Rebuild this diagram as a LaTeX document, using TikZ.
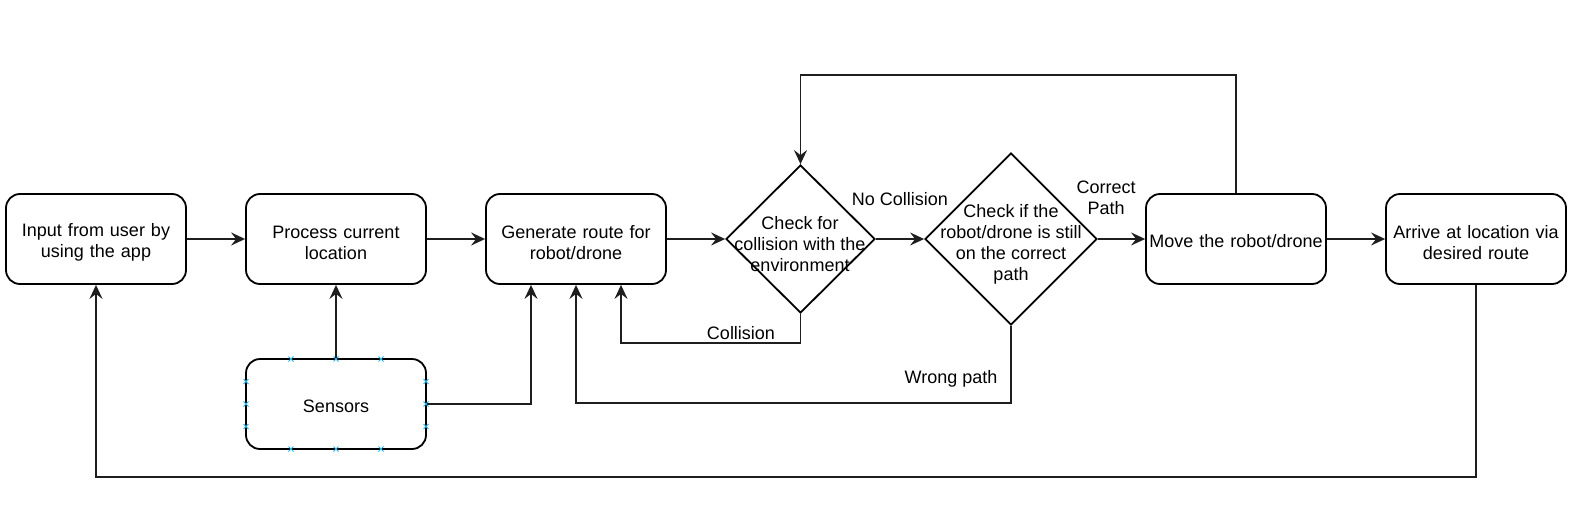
\documentclass[tikz,border=0pt]{standalone}
\usepackage{fontspec}
\setmainfont{Liberation Sans}
\usetikzlibrary{shapes.geometric,arrows.meta}
\definecolor{linegray}{RGB}{30,30,30}
\definecolor{ptblue}{RGB}{41,182,242}
\begin{document}
\begin{tikzpicture}[x=1pt,y=-1pt,
  txt/.style={font=\fontsize{18}{21}\selectfont, align=center, inner sep=0pt},
  box/.style={draw=black, line width=1.8pt, rounded corners=14pt,
    minimum width=180pt, minimum height=90pt, inner sep=0pt},
  btxt/.style={txt, text width=176pt},
  dec/.style={draw=black, line width=1.8pt, diamond, inner sep=0pt, shape aspect=1},
  arr/.style={draw=linegray, line width=1.8pt, line join=miter, -{Stealth[length=14pt,width=13pt,inset=5pt]}},
  lbl/.style={txt},
  ptx/.style={draw=ptblue, line width=1pt}
]
\useasboundingbox (0,0) rectangle (1573,527);
\fill[white] (0,0) rectangle (1573,527);

% nodes
\node[box, label={[btxt, yshift=-3.5pt]center:Input from user by\\using the app}] (b1) at (96,239) {};
\node[box, label={[btxt, yshift=-3.5pt]center:Process current\\location}] (b2) at (336,239) {};
\node[box, label={[btxt, yshift=-3.5pt]center:Generate route for\\robot/drone}] (b3) at (576,239) {};
\node[dec, minimum width=149pt, minimum height=148pt] (d1) at (800.5,239) {};
\node[txt] (d1t) at (800,244) {Check for\\collision with the\\environment};
\node[dec, minimum width=172pt, minimum height=172pt] (d2) at (1011,239) {};
\node[txt] (d2t) at (1011,244.5) {Check if the\\robot/drone is still\\on the correct\\path};
\node[box, label={[btxt, yshift=-2pt]center:Move the robot/drone}] (b4) at (1236,239) {};
\node[box, label={[btxt, yshift=-3.5pt]center:Arrive at location via\\desired route}] (b5) at (1476,239) {};
\node[box, label={[btxt, yshift=-2pt]center:Sensors}] (s) at (336,404) {};

% connection point marks on Sensors
\foreach \p in {291,336,381} {
  \draw[ptx] (\p-2.5,356.5) -- (\p+2.5,361.5) (\p-2.5,361.5) -- (\p+2.5,356.5);
  \draw[ptx] (\p-2.5,446.5) -- (\p+2.5,451.5) (\p-2.5,451.5) -- (\p+2.5,446.5);
}
\foreach \q in {381.5,404,426.5} {
  \draw[ptx] (243.5,\q-2.5) -- (248.5,\q+2.5) (243.5,\q+2.5) -- (248.5,\q-2.5);
  \draw[ptx] (423.5,\q-2.5) -- (428.5,\q+2.5) (423.5,\q+2.5) -- (428.5,\q-2.5);
}

% coordinates for bends
\coordinate (tl) at (800.5,75);
\coordinate (tr) at (1236,75);
\coordinate (c1) at (800.5,343);
\coordinate (c2) at (621,343);
\coordinate (w1) at (1011,403);
\coordinate (w2) at (576,403);
\coordinate (s1) at (531,404);
\coordinate (r1) at (1476,477);
\coordinate (r2) at (96,477);

% connectors
\draw[arr] (b1.east) -- (b2.west);
\draw[arr] (b2.east) -- (b3.west);
\draw[arr] (b3.east) -- (d1.west);
\draw[arr] (d1.east) -- (d2.west);
\draw[arr] (d2.east) -- (b4.west);
\draw[arr] (b4.east) -- (b5.west);
\draw[arr] (b4.north) -- (tr) -- (tl) -- (d1.north);
\draw[arr] (d1.south) -- (c1) -- (c2) -- (c2 |- b3.south);
\draw[arr] (d2.south) -- (w1) -- (w2) -- (b3.south);
\draw[arr] (s.north) -- (b2.south);
\draw[arr] (s.east) -- (s1) -- (s1 |- b3.south);
\draw[arr] (b5.south) -- (r1) -- (r2) -- (b1.south);

% labels
\node[lbl] (l1) at (900,199) {No Collision};
\node[lbl] (l2) at (1106,198) {Correct\\Path};
\node[lbl] (l3) at (741,333) {Collision};
\node[lbl] (l4) at (951,379) {Wrong path};
\end{tikzpicture}
\end{document}
